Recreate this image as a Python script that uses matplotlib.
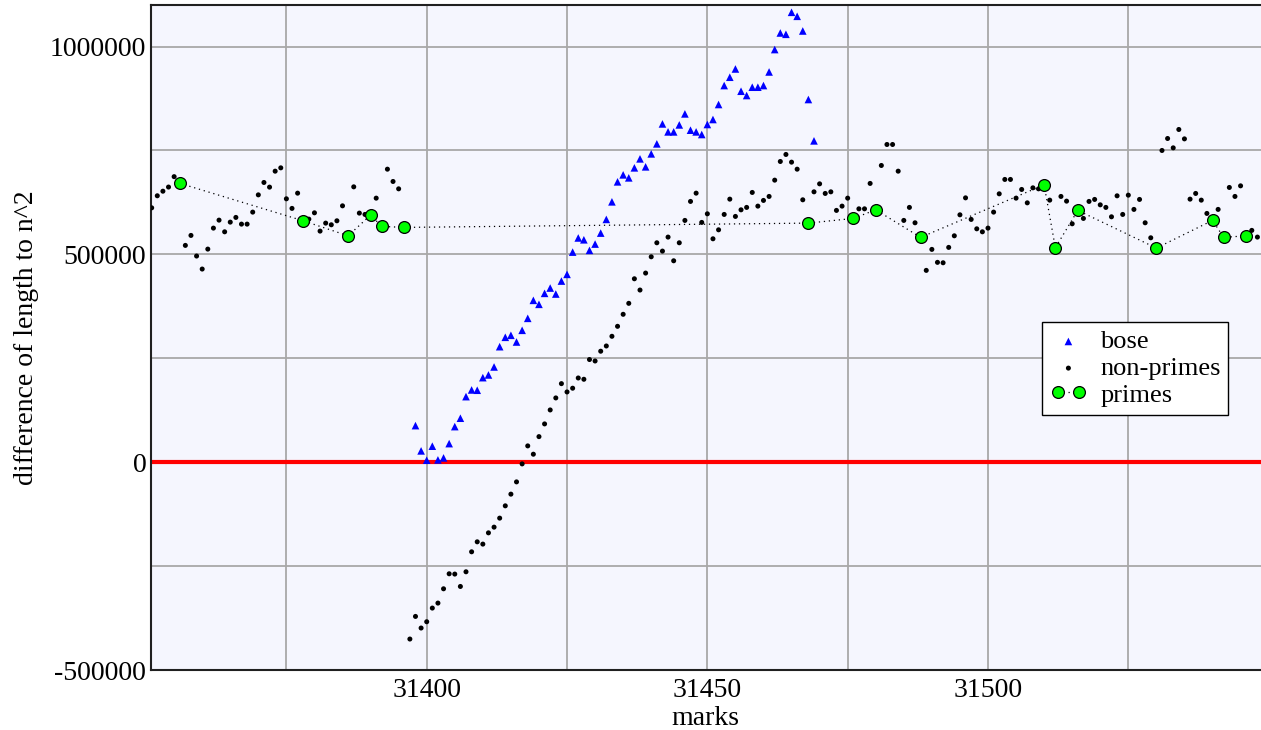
import numpy as np
import matplotlib
matplotlib.use("Agg")
import matplotlib.pyplot as plt
from matplotlib.ticker import MultipleLocator, FuncFormatter

# ---------------- data ----------------
marks_start = 31351
diff_values = [
    612000, 641000, 652000, 662000, 687000, 671000, 521600, 545600, 496000, 464700,
    512700, 563200, 582400, 554300, 577600, 588900, 572800, 572800, 601700, 643200,
    673000, 661800, 700200, 708200, 633700, 610600, 647300, 580800, 584800, 600000,
    556000, 575200, 571200, 580800, 616800, 544700, 662500, 599300, 596100, 594500,
    635300, 567300, 705000, 675400, 657700, 564900, -425500, -371100, -399000, -383900,
    -351000, -339000, -304600, -268500, -269200, -299000, -263700, -215600, -191600, -197100,
    -170000, -156300, -134600, -105000, -76900, -47400, -4100, 39200, 19200, 61500,
    92100, 125700, 154600, 189000, 169000, 178000, 202600, 199500, 247000, 243500,
    267000, 279600, 302900, 326900, 355800, 382200, 441300, 414200, 455000, 494200,
    527900, 507900, 541600, 484600, 527900, 581700, 627400, 647300, 576900, 597600,
    537500, 559100, 596100, 632900, 591300, 607200, 613000, 649000, 616100, 629800,
    639400, 678600, 723500, 740400, 721900, 705000, 631300, 575200, 650500, 669700,
    646600, 650500, 605800, 616100, 635300, 586500, 609600, 609600, 670700, 607200,
    713900, 764400, 764400, 700200, 581700, 613000, 576000, 540900, 461500, 512000,
    480800, 479800, 516800, 544700, 595200, 636000, 584100, 561500, 554300, 563200,
    601700, 645700, 680300, 680300, 635300, 656200, 624000, 660100, 657700, 667300,
    630500, 515900, 639400, 628100, 573600, 605800, 586500, 627400, 632200, 619200,
    613000, 590400, 640900, 596100, 642500, 608200, 632200, 576000, 539900, 515100,
    750000, 778800, 756300, 800500, 777900, 632900, 646600, 630500, 598500, 581700,
    608200, 540900, 661000, 639400, 664900, 544700, 557700, 541600,
]
prime_marks = [31356, 31378, 31386, 31390, 31392, 31396, 31468, 31476, 31480,
               31488, 31510, 31512, 31516, 31530, 31540, 31542, 31546]

bose_start = 31398
bose_values = [
    88000, 27200, 4800, 38500, 5500, 10300, 44700, 85600, 105800, 157700,
    173800, 173100, 203400, 209900, 229100, 277900, 300500, 305300, 289200, 317300,
    346100, 389400, 379800, 406200, 419000, 404600, 435800, 451900, 505500, 539500,
    535100, 509600, 524800, 551200, 584100, 626400, 674500, 691300, 684100, 708200,
    729800, 710600, 741800, 765900, 813900, 794700, 794700, 811500, 838000, 798800,
    794700, 788400, 812500, 824500, 860600, 906200, 926200, 946100, 892500, 882200,
    902200, 902200, 906200, 938900, 992800, 1032700, 1029500, 1082400, 1072800, 1037500,
    872600, 773100,
]

x_ticks_labeled = [31400, 31450, 31500]
y_ticks_labeled = [-500000, 0, 500000, 1000000]

# ---------------- derived ----------------
marks = np.arange(marks_start, marks_start + len(diff_values))
vals = np.array(diff_values)
is_prime = np.isin(marks, prime_marks)
bose_marks = np.arange(bose_start, bose_start + len(bose_values))

# ---------------- plot ----------------
plt.rcParams['font.family'] = ['Liberation Serif', 'DejaVu Serif']
fig = plt.figure(figsize=(12.61, 7.30), dpi=100)
ax = fig.add_axes([150.5 / 1261, 1 - 670 / 730, 1 - 150.5 / 1261, (670 - 5) / 730])
ax.set_facecolor('#f5f6fe')

ax.axhline(0, color='#ff0000', lw=3.0, zorder=2)

ax.scatter(bose_marks, bose_values, marker='^', s=30, color='#0000ff',
           edgecolors='none', zorder=3, label='bose')
ax.scatter(marks[~is_prime], vals[~is_prime], marker='o', s=13, color='black',
           edgecolors='none', zorder=3, label='non-primes')
ax.plot(marks[is_prime], vals[is_prime], linestyle=(0, (1, 3)), color='black', lw=0.9,
        marker='o', markersize=8.5, markerfacecolor='#00ff00', markeredgecolor='black',
        markeredgewidth=0.9, zorder=4, label='primes')

ax.set_xlim(31350.79, 31548.64)
ax.set_ylim(-500000, 1100000)

ax.xaxis.set_major_locator(MultipleLocator(25))
ax.yaxis.set_major_locator(MultipleLocator(250000))
ax.xaxis.set_major_formatter(FuncFormatter(
    lambda v, p: f"{int(round(v))}" if int(round(v)) in x_ticks_labeled else ""))
ax.yaxis.set_major_formatter(FuncFormatter(
    lambda v, p: f"{int(round(v))}" if int(round(v)) in y_ticks_labeled else ""))
ax.grid(True, color='#a8a8a8', lw=1.3, zorder=1)
ax.set_axisbelow(True)
ax.tick_params(axis='x', length=0, labelsize=20, pad=6)
ax.tick_params(axis='y', length=0, labelsize=20, pad=3)

for s in ['right']:
    ax.spines[s].set_visible(False)
for s in ['left', 'bottom', 'top']:
    ax.spines[s].set_color('#202020')
    ax.spines[s].set_linewidth(1.5)

ax.set_xlabel('marks', fontsize=20, labelpad=2)
ax.set_ylabel('difference of length to n^2', fontsize=20, labelpad=8)

leg = ax.legend(loc='upper left', bbox_to_anchor=(0.8028, 0.5233), fontsize=19,
                frameon=True, fancybox=False, edgecolor='black', facecolor='white',
                framealpha=1, scatterpoints=1, numpoints=2, handlelength=1.4,
                handletextpad=0.5, borderpad=0.3, labelspacing=0.12, borderaxespad=0)
leg.get_frame().set_linewidth(1.0)

fig.savefig('out.png', dpi=100)
